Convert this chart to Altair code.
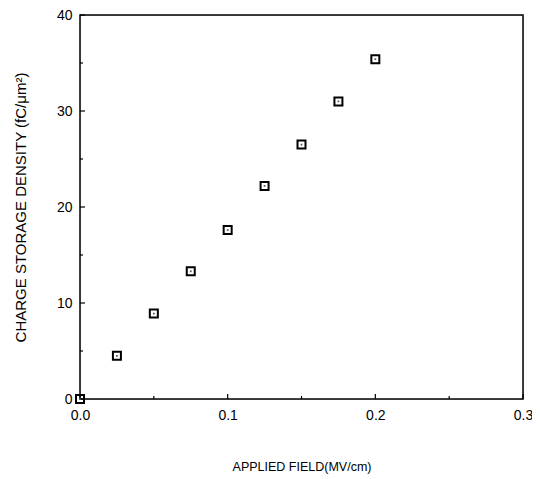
import altair as alt
import pandas as pd

field = [0.0, 0.025, 0.05, 0.075, 0.1, 0.125, 0.15, 0.175, 0.2]
density = [0.0, 4.5, 8.9, 13.3, 17.6, 22.2, 26.5, 31.0, 35.4]

x_major = [0.0, 0.1, 0.2, 0.3]
x_minor = [0.05, 0.15, 0.25]
y_major = [0, 10, 20, 30, 40]
y_minor = [5, 15, 25, 35]

W, H = 443, 384
FONT = "Liberation Sans"

df = pd.DataFrame({"field": field, "density": density})

xs = alt.Scale(domain=[0, 0.3], nice=False, zero=False)
ys = alt.Scale(domain=[0, 40], nice=False, zero=False)

base = alt.Chart(df)

pts = base.mark_point(shape="square", filled=False, color="black", strokeWidth=2, size=64, opacity=1).encode(
    x=alt.X("field:Q", scale=xs,
            axis=alt.Axis(values=x_major, format=".1f", ticks=False, domain=False, grid=False,
                          labelFlush=False, labelOverlap=False,
                          labelFontSize=14, labelFont=FONT, labelColor="black", labelPadding=9,
                          title="APPLIED FIELD(MV/cm)", titleFont=FONT, titleFontSize=12.5,
                          titleFontWeight="normal", titleColor="black", titleY=67,
                          titleBaseline="middle")),
    y=alt.Y("density:Q", scale=ys,
            axis=alt.Axis(values=y_major, ticks=False, domain=False, grid=False,
                          labelFlush=False, labelOverlap=False,
                          labelFontSize=14, labelFont=FONT, labelColor="black", labelPadding=8,
                          title="CHARGE STORAGE DENSITY (fC/μm²)", titleFont=FONT, titleFontSize=15,
                          titleFontWeight="normal", titleColor="black", titleX=-60, titleY=H / 2,
                          titleAngle=-90, titleBaseline="middle", titleAlign="center")),
)
dots = base.mark_point(shape="square", filled=True, color="#555", size=3, opacity=1).encode(
    x=alt.X("field:Q", scale=xs), y=alt.Y("density:Q", scale=ys)
)

frame = alt.Chart(pd.DataFrame({"a": [0]})).mark_rect(fill=None, stroke="black", strokeWidth=1.5).encode(
    x=alt.value(0), x2=alt.value(W), y=alt.value(0), y2=alt.value(H)
)

def xticks(vals, length):
    d = pd.DataFrame({"t": vals})
    b = alt.Chart(d).mark_rule(color="black", strokeWidth=1.2)
    return b.encode(x=alt.X("t:Q", scale=xs), y=alt.value(H), y2=alt.value(H - length))

def yticks(vals, length):
    d = pd.DataFrame({"t": vals})
    b = alt.Chart(d).mark_rule(color="black", strokeWidth=1.2)
    return b.encode(y=alt.Y("t:Q", scale=ys), x=alt.value(0), x2=alt.value(length))

chart = alt.layer(
    frame, xticks(x_major, 5), xticks(x_minor, 3), yticks(y_major, 5), yticks(y_minor, 3), pts, dots
).properties(
    width=W, height=H,
    autosize=alt.AutoSizeParams(type="none"),
    padding={"left": 72, "top": 7, "right": 9, "bottom": 78},
).configure_view(stroke="black", strokeWidth=1.5).configure(background="white")

chart.save("out.html", embed_options={"renderer": "svg", "actions": False})
